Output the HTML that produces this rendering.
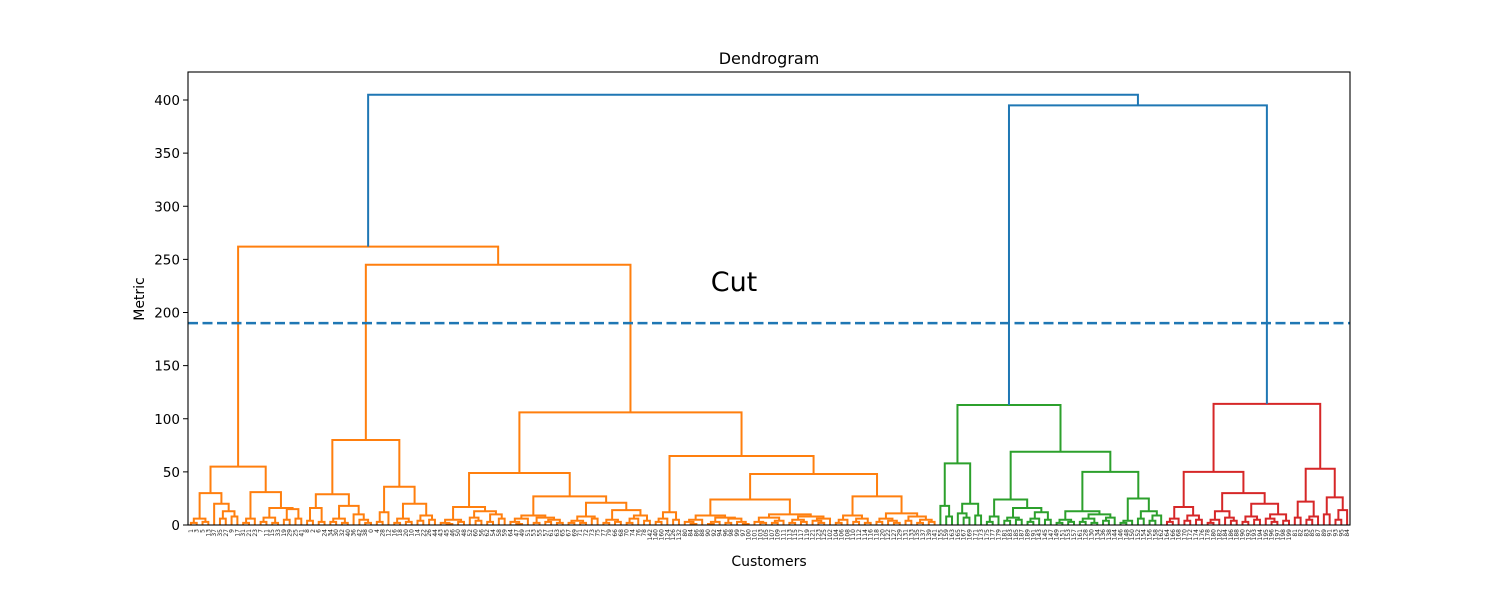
<!DOCTYPE html>
<html><head><meta charset="utf-8"><style>
body{margin:0;background:#fff}
svg{display:block;font-family:"DejaVu Sans","Liberation Sans",sans-serif}
</style></head><body>
<svg id="chart" width="1500" height="600" viewBox="0 0 1500 600" xmlns="http://www.w3.org/2000/svg">
<rect width="1500" height="600" fill="#fff"/>
<text x="769" y="64" font-size="16" text-anchor="middle">Dendrogram</text>
<text x="769" y="566" font-size="14" text-anchor="middle">Customers</text>
<text x="144" y="299" font-size="14" text-anchor="middle" transform="rotate(-90 144 299)">Metric</text>
<g id="links"></g>
<g id="yticks"></g>
<g id="leaves"></g>
<line id="cut" x1="188" x2="1350" y1="323" y2="323" stroke="#1f77b4" stroke-width="2.6" stroke-dasharray="10,4.5"/>
<text id="cutText" x="734" y="291" font-size="27" text-anchor="middle">Cut</text>
<rect x="188" y="72" width="1162" height="453" fill="none" stroke="#000" stroke-width="1.1"/>
</svg>
<script>
// Linkage subtrees: [height, left, right]; leaf = 0
const A_L = [30,[6,[2,0,0],[3,0,0]],[20,0,[13,[6,0,0],[8,0,0]]]];
const A_R = [31,[6,[2,0,0],0],[16,[7,[3,0,0],[2,0,0]],[15,[5,0,0],[6,0,0]]]];
const B1L = [29,[16,[4,0,0],[3,0,0]],[18,[6,[3,0,0],[2,0,0]],[10,0,[5,0,[2,0,0]]]]];
const B1R = [36,[12,[3,0,0],0],[20,[6,[2,0,0],[3,0,0]],[9,[4,0,0],[5,0,0]]]];
const B2aL = [17,[5,[2,0,[1,0,0]],[3,0,0]],[13,[7,0,[4,0,0]],[10,[3,0,0],[6,0,0]]]];
const B2aRL = [9,[6,[3,0,[1,0,0]],0],[7,[2,0,0],[5,[3,0,0],[2,0,0]]]];
const B2aRR = [21,[8,[4,[2,0,0],[2,0,0]],[6,0,0]],[14,[5,[2,0,0],[3,0,0]],[9,[6,[2,0,0],0],[4,0,0]]]];
const B2bS = [12,[6,[3,0,0],0],[5,0,0]];
const N762L = [9,[5,[3,0,[1,0,0]],0],[7,[3,[1,0,0],0],[6,[2,0,0],[3,0,[1,0,0]]]]];
const N762R = [10,[7,[3,0,[2,0,0]],[4,[2,0,0],0]],[8,[5,[2,0,0],[3,0,0]],[6,[4,0,[2,0,0]],0]]];
const N881 = [27,[9,[5,[2,0,0],0],[6,[3,0,0],[2,0,0]]],[11,[6,[3,0,0],[4,0,[2,0,0]]],[8,[4,0,0],[5,[2,0,0],[3,0,0]]]]];
const B2a = [49,B2aL,[27,B2aRL,B2aRR]];
const B2b = [65,B2bS,[48,[24,N762L,N762R],N881]];
const orange = [262,[55,A_L,A_R],[245,[80,B1L,B1R],[106,B2a,B2b]]];
const G1 = [58,[18,0,[8,0,0]],[20,[11,0,[7,0,0]],[9,0,0]]];
const G2L = [24,[8,[3,0,0],0],[16,[7,[4,0,0],[5,0,0]],[12,[6,[3,0,0],0],[5,0,0]]]];
const G2R1 = [13,[5,[2,0,0],[3,0,0]],[10,[6,[3,0,0],[2,0,0]],[7,[4,0,0],0]]];
const G2R2 = [25,[4,[2,0,0],0],[13,[6,0,0],[9,[4,0,0],0]]];
const green = [113,G1,[69,G2L,[50,G2R1,G2R2]]];
const R1L = [17,[6,[3,0,0],0],[9,[4,0,0],[5,0,0]]];
const R1R = [30,[13,[5,[2,0,0],0],[7,0,[4,0,0]]],[20,[8,[3,0,0],[5,0,0]],[10,[6,0,[3,0,0]],[4,0,0]]]];
const R2 = [53,[22,[7,0,0],[8,[5,0,0],0]],[26,[10,0,0],[14,[5,0,0],0]]];
const red = [114,[50,R1L,R1R],R2];
const tree = [405, orange, [395, green, red]];
const clusterColors = ["#ff7f0e","#2ca02c","#d62728"];
const aboveColor = "#1f77b4";
const colorThreshold = 283;
const cutHeight = 190;
const yTicks = [0,50,100,150,200,250,300,350,400];
const leafLabels = [1,3,5,13,37,35,27,9,17,31,21,23,7,11,15,33,19,29,25,41,8,2,6,24,34,30,32,40,36,42,38,0,4,28,12,16,18,20,10,14,22,26,44,43,45,46,50,48,52,60,56,62,54,58,59,64,47,49,51,53,55,57,61,63,65,67,69,71,72,73,75,77,79,66,68,70,74,76,78,142,140,160,124,126,132,80,84,86,88,90,92,94,96,98,99,97,100,101,103,105,107,109,111,113,115,117,119,121,123,125,102,104,106,108,110,112,114,116,118,120,122,127,129,131,133,135,137,139,141,155,159,163,165,167,169,171,173,175,177,179,181,183,185,187,189,191,143,145,147,149,151,153,157,161,128,130,134,136,138,144,146,148,150,152,154,156,158,162,164,166,168,170,172,174,176,178,180,182,184,186,188,190,192,193,194,195,196,197,198,199,81,82,83,85,87,89,91,93,95,84];

const NS="http://www.w3.org/2000/svg";
const X0=188, X1=1350, Y0=525, K=1.0625;
function countLeaves(n){return Array.isArray(n)?countLeaves(n[1])+countLeaves(n[2]):1;}
const N = countLeaves(tree);
const xs = v => X0 + v/(10*N)*(X1-X0);
const ys = v => Y0 - v*K;
const linksG=document.getElementById('links');
let leafIdx=0, clusterIdx=0;
function layout(n, color){
  if(!Array.isArray(n)){const v=5+10*leafIdx; leafIdx++; return {x:v,h:0};}
  const h=n[0];
  let c=color;
  if(h<colorThreshold && !color){c=clusterColors[clusterIdx%clusterColors.length]; clusterIdx++;}
  const L=layout(n[1],c), R=layout(n[2],c);
  const p=document.createElementNS(NS,'path');
  p.setAttribute('d',`M${xs(L.x)},${ys(L.h)}V${ys(h)}H${xs(R.x)}V${ys(R.h)}`);
  p.setAttribute('fill','none');
  p.setAttribute('stroke',c||aboveColor);
  p.setAttribute('stroke-width','2');
  
  
  linksG.appendChild(p);
  return {x:(L.x+R.x)/2,h:h};
}
layout(tree,null);

const yt=document.getElementById('yticks');
yTicks.forEach(t=>{
  const y=ys(t);
  const l=document.createElementNS(NS,'line');
  l.setAttribute('x1',X0-5);l.setAttribute('x2',X0);l.setAttribute('y1',y);l.setAttribute('y2',y);
  l.setAttribute('stroke','#000');
  
  
  yt.appendChild(l);
  const tx=document.createElementNS(NS,'text');
  tx.setAttribute('x',X0-8);tx.setAttribute('y',y+5);tx.setAttribute('font-size','13.5');tx.setAttribute('text-anchor','end');
  tx.textContent=t;
  
  
  yt.appendChild(tx);
});

const lg=document.getElementById('leaves');
for(let i=0;i<N;i++){
  const x=xs(5+10*i);
  const tx=document.createElementNS(NS,'text');
  tx.setAttribute('transform',`translate(${x+2},529) rotate(-90)`);
  tx.setAttribute('font-size','6');
  tx.setAttribute('text-anchor','end');
  tx.setAttribute('fill','#222');
  tx.textContent=leafLabels[i]!==undefined?leafLabels[i]:'';
  
  
  lg.appendChild(tx);
}

const cut=document.getElementById('cut');
cut.setAttribute('y1',ys(cutHeight));cut.setAttribute('y2',ys(cutHeight));
const ct=document.getElementById('cutText');
ct.setAttribute('y',ys(cutHeight)-32);
</script>
</body></html>
